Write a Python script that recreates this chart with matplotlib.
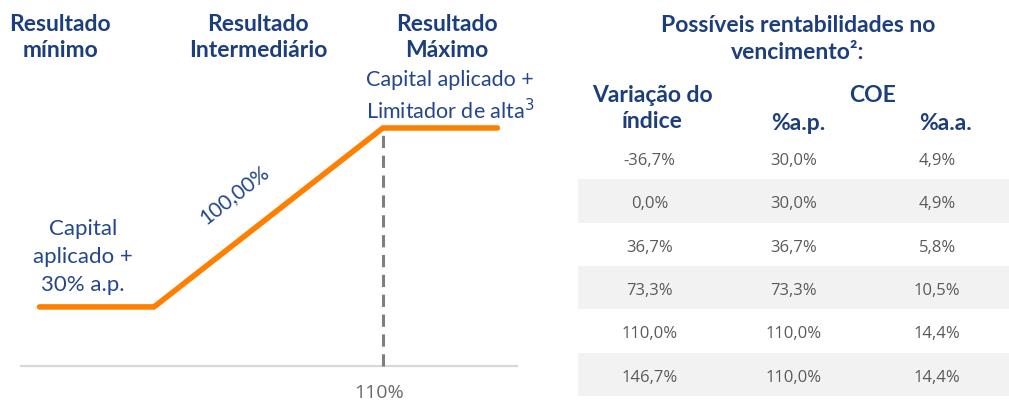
import matplotlib
matplotlib.use("Agg")
import matplotlib.pyplot as plt

plt.rcParams['font.family'] = ['Lato', 'DejaVu Sans']

# payoff curve: index variation (%) -> COE return (%)
payoff_x = [-10, 30, 110, 150]
payoff_y = [30, 30, 110, 110]
cap_level = 110

# table of possible returns at maturity
index_var = [-36.7, 0.0, 36.7, 73.3, 110.0, 146.7]
coe_ap = [30.0, 30.0, 36.7, 73.3, 110.0, 110.0]
coe_aa = [4.9, 4.9, 5.8, 10.5, 14.4, 14.4]

NAVY = '#1c3f7c'
NAVY_TXT = '#24468c'
ORANGE = '#ff7f00'
GRAY_TXT = '#5a5a5a'
W, H = 1009, 400


def fx(px):
    return px / W


def fy(py):
    return 1 - py / H


def pct(v):
    return f"{v:.1f}".replace('.', ',') + '%'


fig = plt.figure(figsize=(W / 100, H / 100), dpi=100)

# --- payoff chart ---
ax = fig.add_axes([0, 0, fx(520), 1])
ax.set_xlim(-23.8, 157.9)
ax.set_ylim(-11.6, 167.2)
ax.axis('off')

ax.plot(payoff_x, payoff_y, color=ORANGE, lw=4, solid_capstyle='round',
        solid_joinstyle='round', zorder=3)
ax.plot([cap_level, cap_level], [3.6, payoff_y[-1]], color='#7f7f7f', lw=2.2,
        dashes=(4, 2.5), zorder=2)
ax.plot([-16.5, 156.8], [3.6, 3.6], color='#d9d9d9', lw=1.6, zorder=1)
ax.text(cap_level - 1.5, -8.4, f"{cap_level}%", ha='center', va='center',
        fontsize=14, color='#6b6b6b', family=['Open Sans', 'DejaVu Sans'])

ax.text(5.2, 52.5, "Capital\naplicado +\n30% a.p.", ha='center', va='center',
        fontsize=16, color=NAVY_TXT, linespacing=1.5)
ax.text(58, 80, "100,00%", ha='center', va='center', rotation=38,
        fontsize=15, color=NAVY_TXT)

# column headers over the payoff chart
for x, label in [(60, "Resultado\nmínimo"), (258, "Resultado\nIntermediário"),
                 (447, "Resultado\nMáximo")]:
    fig.text(fx(x), fy(37.5), label, ha='center', va='center', fontsize=16.5,
             fontweight='bold', color=NAVY, linespacing=1.33)
fig.text(fx(450), fy(97), "Capital aplicado +\nLimitador de alta$^3$",
         ha='center', va='center', fontsize=15.5, color=NAVY_TXT, linespacing=1.38)

# --- table ---
fig.text(fx(798), fy(39), "Possíveis rentabilidades no\nvencimento²:",
         ha='center', va='center', fontsize=16.5, fontweight='bold', color=NAVY,
         linespacing=1.3)
fig.text(fx(652), fy(108.5), "Variação do\níndice", ha='center', va='center',
         fontsize=16.5, fontweight='bold', color=NAVY, linespacing=1.3)
fig.text(fx(873), fy(95), "COE", ha='center', va='center', fontsize=16.5,
         fontweight='bold', color=NAVY)
fig.text(fx(798), fy(123), "%a.p.", ha='center', va='center', fontsize=16.5,
         fontweight='bold', color=NAVY)
fig.text(fx(946), fy(123), "%a.a.", ha='center', va='center', fontsize=16.5,
         fontweight='bold', color=NAVY)

tax = fig.add_axes([fx(578), fy(396), fx(W - 578), (396 - 136) / H])
n = len(index_var)
tax.set_xlim(0, 3)
tax.set_ylim(n, 0)
tax.axis('off')
for i, row in enumerate(zip(index_var, coe_ap, coe_aa)):
    if i % 2 == 1:
        tax.axhspan(i, i + 1, color='#f2f2f2', lw=0, zorder=0)
    for j, v in enumerate(row):
        tax.text(j + 0.5, i + 0.58, pct(v), ha='center', va='center',
                 fontsize=12, color=GRAY_TXT, family=['Open Sans', 'DejaVu Sans'])

fig.savefig('out.png', dpi=100, facecolor='white')
